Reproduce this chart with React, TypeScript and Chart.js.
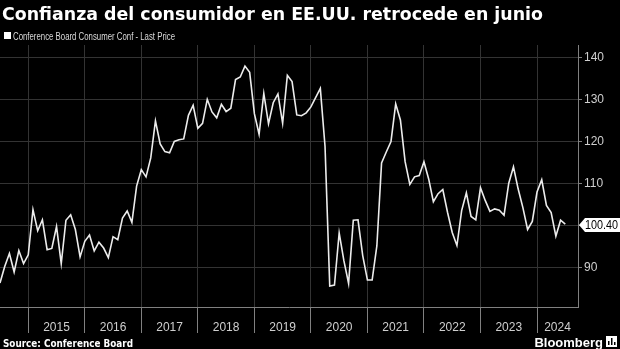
import React, { useEffect, useRef } from 'react';
import { Chart, registerables } from 'chart.js';
Chart.register(...registerables);

const TITLE = 'Confianza del consumidor en EE.UU. retrocede en junio';
const LEGEND_LABEL = 'Conference Board Consumer Conf - Last Price';
const SOURCE = 'Source: Conference Board';
const BRAND = 'Bloomberg';
const LAST_LABEL = '100.40';

// Monthly index values, first point = Jun 2014, last = Jun 2024
const v2014 = [86.4, 90.3, 93.4, 89.0, 94.1, 91.0, 93.1];
const v2015 = [103.8, 98.8, 101.4, 94.3, 94.6, 99.8, 91.0, 101.3, 102.6, 99.1, 92.6, 96.3];
const v2016 = [97.8, 94.0, 96.1, 94.7, 92.4, 97.4, 96.7, 101.8, 103.5, 100.8, 109.4, 113.3];
const v2017 = [111.6, 116.1, 124.9, 119.4, 117.6, 117.3, 120.0, 120.4, 120.6, 126.2, 128.6, 123.1];
const v2018 = [124.3, 130.0, 127.0, 125.6, 128.8, 127.1, 127.9, 134.7, 135.3, 137.9, 136.4, 126.6];
const v2019 = [121.7, 131.4, 124.2, 129.2, 131.3, 124.3, 135.7, 134.2, 126.3, 126.1, 126.8, 128.2];
const v2020 = [130.4, 132.6, 118.8, 85.7, 85.9, 98.3, 91.7, 86.3, 101.3, 101.4, 92.9, 87.1];
const v2021 = [87.1, 95.2, 114.9, 117.5, 120.0, 128.9, 125.1, 115.2, 109.8, 111.6, 111.9, 115.2];
const v2022 = [111.1, 105.7, 107.6, 108.6, 103.2, 98.4, 95.3, 103.6, 107.8, 102.2, 101.4, 109.0];
const v2023 = [106.0, 103.4, 104.0, 103.7, 102.5, 110.1, 114.0, 108.7, 104.3, 99.1, 101.0, 108.0];
const v2024 = [110.9, 104.8, 103.1, 97.5, 101.3, 100.4];

const yearLabels = ['2015', '2016', '2017', '2018', '2019', '2020', '2021', '2022', '2023', '2024'];
const yTickValues = [90, 100, 110, 120, 130, 140];
const FIRST_BOUNDARY = 6; // months from Jun 2014 to the start of 2015
const X_MAX = 122.7;
const Y_MIN = 80.7;
const Y_MAX = 142.9;

const allValues = [...v2014, ...v2015, ...v2016, ...v2017, ...v2018, ...v2019, ...v2020, ...v2021, ...v2022, ...v2023, ...v2024];

const boundaries = yearLabels.map((_, i) => FIRST_BOUNDARY + 12 * i);
const centers = yearLabels.map((_, i) =>
  i < yearLabels.length - 1 ? boundaries[i] + 6 : (boundaries[i] + X_MAX) / 2
);

const GRID = '#333333';
const AXIS = '#808080';
const TICK_TEXT = '#cfcfcf';
const FONT = '"Liberation Sans", Arial, sans-serif';
const BOLD_FONT = '"DejaVu Sans", "Liberation Sans", sans-serif';

function fitText(ctx: any, text: string, x: number, y: number, width: number) {
  const w = ctx.measureText(text).width;
  const s = Math.min(1, width / w);
  ctx.save();
  ctx.translate(x, y);
  ctx.scale(s, 1);
  ctx.fillText(text, 0, 0);
  ctx.restore();
}

const overlay = {
  id: 'overlay',
  beforeDraw(chart: any) {
    const { ctx, width, height } = chart;
    ctx.save();
    ctx.fillStyle = '#000';
    ctx.fillRect(0, 0, width, height);
    ctx.restore();
  },
  afterDraw(chart: any) {
    const { ctx, scales } = chart;
    ctx.save();
    ctx.textBaseline = 'alphabetic';
    ctx.textAlign = 'left';
    // title
    ctx.fillStyle = '#ffffff';
    ctx.font = 'bold 17.5px ' + BOLD_FONT;
    fitText(ctx, TITLE, 2, 20, 541);
    // legend
    ctx.fillStyle = '#ffffff';
    ctx.fillRect(4, 32, 7, 7);
    ctx.fillStyle = '#d9d9d9';
    ctx.font = '10px ' + FONT;
    fitText(ctx, LEGEND_LABEL, 13, 39.5, 162);
    // source
    ctx.fillStyle = '#ffffff';
    ctx.font = 'bold 10.5px ' + BOLD_FONT;
    fitText(ctx, SOURCE, 3, 347, 130);
    // brand
    ctx.font = 'bold 13px ' + FONT;
    ctx.fillStyle = '#ffffff';
    ctx.textAlign = 'right';
    ctx.fillText(BRAND, 603, 347);
    ctx.fillStyle = '#ffffff';
    ctx.fillRect(606, 336, 11, 11);
    ctx.fillStyle = '#000';
    ctx.fillRect(608, 341, 1.5, 4);
    ctx.fillRect(611, 338, 1.5, 7);
    ctx.fillRect(614, 342, 1.5, 3);
    // last price label
    const last = allValues[allValues.length - 1];
    const y = scales.y.getPixelForValue(last) + 1;
    const xr = scales.y.left + 3;
    ctx.fillStyle = '#ffffff';
    ctx.beginPath();
    ctx.moveTo(xr - 2, y);
    ctx.lineTo(xr + 4, y - 7);
    ctx.lineTo(620, y - 7);
    ctx.lineTo(620, y + 7);
    ctx.lineTo(xr + 4, y + 7);
    ctx.closePath();
    ctx.fill();
    ctx.fillStyle = '#000';
    ctx.textAlign = 'left';
    ctx.textBaseline = 'middle';
    ctx.font = '12px ' + FONT;
    fitText(ctx, LAST_LABEL, xr + 4, y + 0.5, 33);
    ctx.restore();
  },
};

export default function App() {
  const ref = useRef<HTMLCanvasElement | null>(null);
  useEffect(() => {
    document.body.style.margin = '0';
    document.body.style.background = '#000';
    const canvas = ref.current!;
    const chart = new Chart(canvas, {
      type: 'line',
      data: {
        datasets: [
          {
            label: LEGEND_LABEL,
            data: allValues.map((v, i) => ({ x: i, y: v })),
            borderColor: '#ececec',
            borderWidth: 1.6,
            pointRadius: 0,
            tension: 0,
          },
        ],
      },
      options: {
        responsive: false,
        animation: false,
        devicePixelRatio: 1,
        layout: { padding: { top: 45, left: 0, right: 0, bottom: 0 } },
        plugins: { legend: { display: false }, title: { display: false }, tooltip: { enabled: false } },
        scales: {
          x: {
            type: 'linear',
            min: 0,
            max: X_MAX,
            afterBuildTicks: (axis: any) => {
              const vals = [...boundaries, ...centers].sort((a, b) => a - b);
              axis.ticks = vals.map((value) => ({ value }));
            },
            afterFit: (axis: any) => {
              axis.height = 42;
            },
            grid: {
              color: (c: any) => (c.tick && boundaries.includes(c.tick.value) ? GRID : 'transparent'),
              tickColor: (c: any) => (c.tick && boundaries.includes(c.tick.value) ? AXIS : 'transparent'),
              tickLength: 26,
              lineWidth: 1,
            },
            border: { display: true, color: AXIS, width: 1 },
            ticks: {
              autoSkip: false,
              maxRotation: 0,
              padding: -13,
              color: TICK_TEXT,
              font: { family: FONT, size: 12 },
              callback: (value: any) => {
                const idx = centers.findIndex((c) => Math.abs(c - value) < 1e-6);
                return idx >= 0 ? yearLabels[idx] : '';
              },
            },
          },
          y: {
            type: 'linear',
            position: 'right',
            min: Y_MIN,
            max: Y_MAX,
            afterBuildTicks: (axis: any) => {
              axis.ticks = yTickValues.map((value) => ({ value }));
            },
            afterFit: (axis: any) => {
              axis.width = 42;
            },
            grid: { color: GRID, tickColor: AXIS, tickLength: 4, lineWidth: 1 },
            border: { display: true, color: AXIS, width: 1 },
            ticks: {
              padding: 2,
              color: TICK_TEXT,
              font: { family: FONT, size: 12 },
              callback: (value: any) => String(value),
            },
          },
        },
      },
      plugins: [overlay],
    });
    return () => chart.destroy();
  }, []);
  return (
    <div style={{ width: 620, height: 349, background: '#000' }}>
      <canvas ref={ref} width={620} height={349} style={{ display: 'block' }} />
    </div>
  );
}
